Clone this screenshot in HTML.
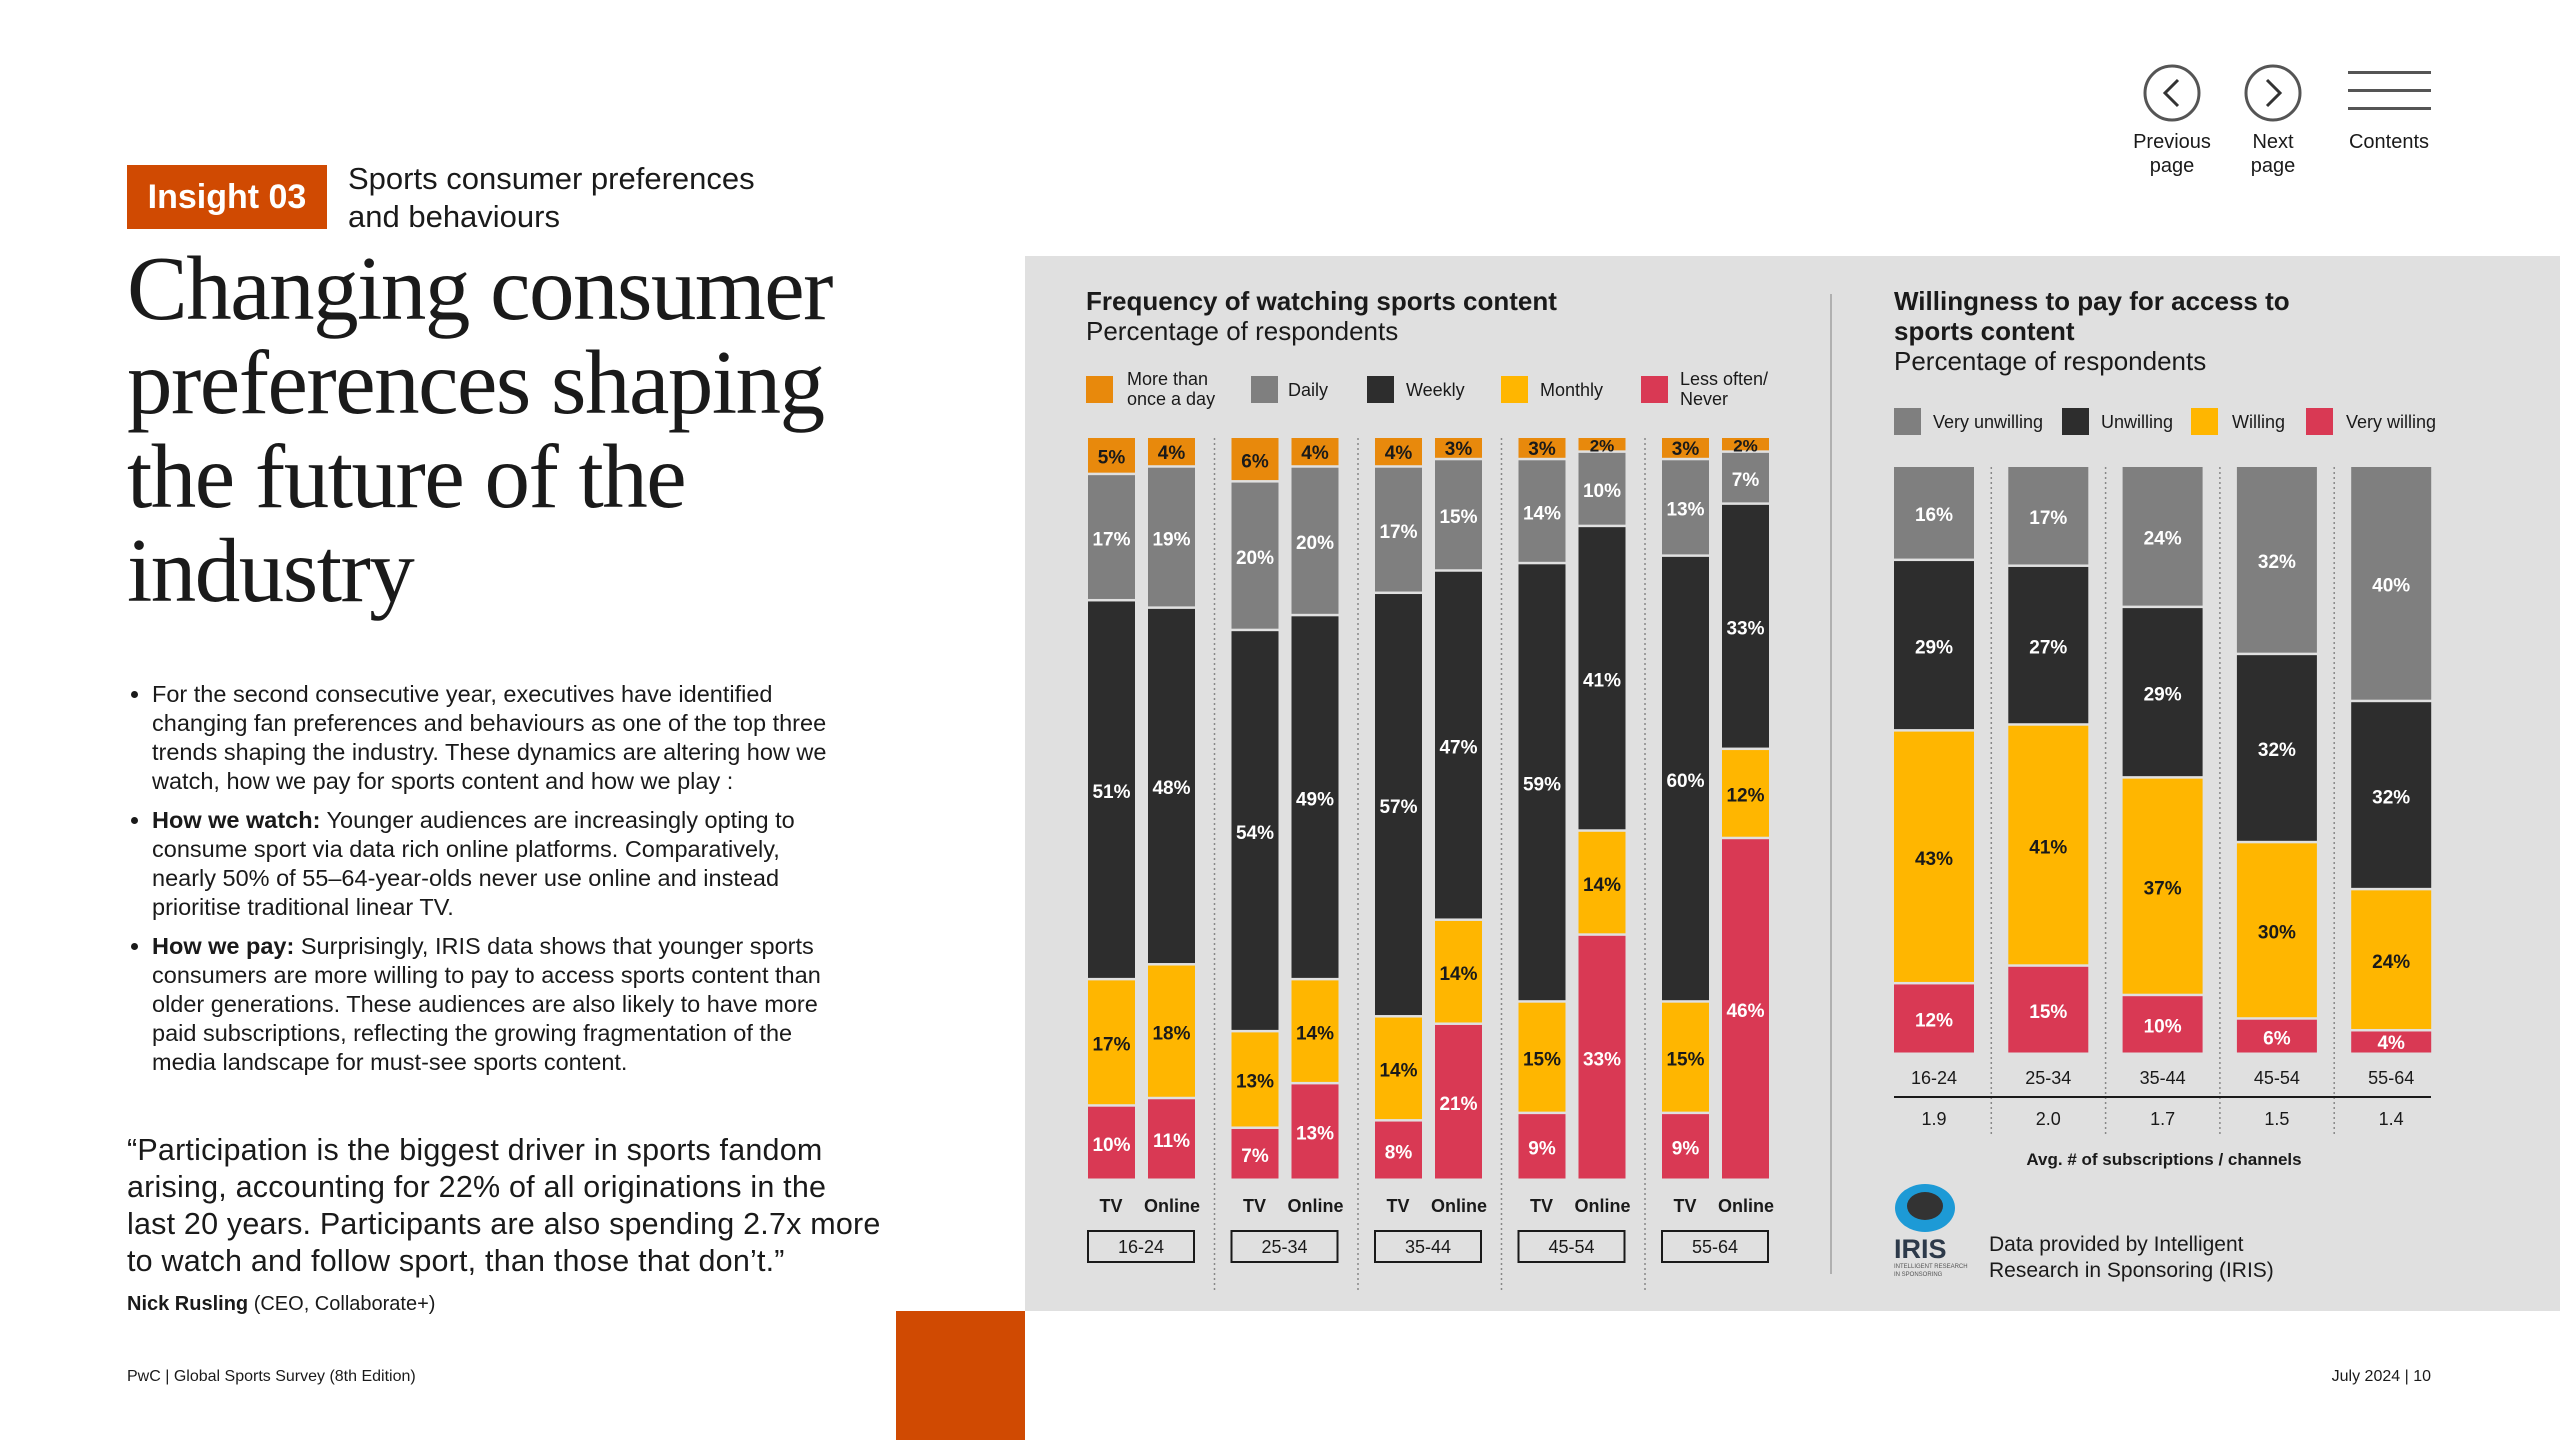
<!DOCTYPE html>
<html><head><meta charset="utf-8">
<style>
body{margin:0;width:2560px;height:1440px;position:relative;background:#fff;font-family:"Liberation Sans",sans-serif;color:#1a1a1a;overflow:hidden}
.a{position:absolute;margin:0}
</style></head><body>
<div class="a" style="left:127px;top:165px;width:200px;height:64px;background:#d04a02;color:#fff;font-size:34px;font-weight:bold;line-height:64px;text-align:center">Insight 03</div>
<div class="a" style="left:348px;top:160px;font-size:31px;line-height:38px;font-weight:500">Sports consumer preferences<br>and behaviours</div>
<h1 class="a" style="left:127px;top:242px;font-family:'Liberation Serif',serif;font-weight:normal;font-size:91px;line-height:94px;letter-spacing:-1.5px">Changing consumer<br>preferences shaping<br>the future of the<br>industry</h1>
<ul class="a" style="left:127px;top:680px;width:690px;padding-left:25px;font-size:23.5px;line-height:29px;list-style:disc">
<li style="margin-bottom:10px">For the second consecutive year, executives have identified changing fan preferences and behaviours as one of the top three trends shaping the industry. These dynamics are altering how we watch, how we pay for sports content and how we play :</li>
<li style="margin-bottom:10px"><b>How we watch:</b> Younger audiences are increasingly opting to consume sport via data rich online platforms. Comparatively, nearly 50% of 55–64-year-olds never use online and instead prioritise traditional linear TV.</li>
<li><b>How we pay:</b> Surprisingly, IRIS data shows that younger sports consumers are more willing to pay to access sports content than older generations. These audiences are also likely to have more paid subscriptions, reflecting the growing fragmentation of the media landscape for must-see sports content.</li>
</ul>
<div class="a" style="left:127px;top:1132px;white-space:nowrap;font-size:30.5px;line-height:37px;letter-spacing:0.2px">“Participation is the biggest driver in sports fandom<br>arising, accounting for 22% of all originations in the<br>last 20 years. Participants are also spending 2.7x more<br>to watch and follow sport, than those that don’t.”</div>
<div class="a" style="left:127px;top:1293px;font-size:20px"><b>Nick Rusling</b> (CEO, Collaborate+)</div>
<div class="a" style="left:127px;top:1368px;font-size:16px">PwC | Global Sports Survey (8th Edition)</div>
<div class="a" style="right:129px;top:1368px;font-size:16px">July 2024 | 10</div>
<div class="a" style="left:896px;top:1311px;width:129px;height:129px;background:#d04a02"></div>

<svg class="a" style="left:0;top:0" width="2560" height="1440">
<g font-family="Liberation Sans" font-size="20" text-anchor="middle" fill="#1a1a1a">
<circle cx="2172" cy="93" r="27" fill="none" stroke="#555" stroke-width="3"/><path d="M2178 80 L2165 93 L2178 106" fill="none" stroke="#333" stroke-width="3"/>
<text x="2172" y="148">Previous</text><text x="2172" y="172">page</text></g>
<g font-family="Liberation Sans" font-size="20" text-anchor="middle" fill="#1a1a1a">
<circle cx="2273" cy="93" r="27" fill="none" stroke="#555" stroke-width="3"/><path d="M2267 80 L2280 93 L2267 106" fill="none" stroke="#333" stroke-width="3"/>
<text x="2273" y="148">Next</text><text x="2273" y="172">page</text></g>
<g font-family="Liberation Sans" font-size="20" text-anchor="middle" fill="#1a1a1a">
<rect x="2348" y="71" width="83" height="3" fill="#555"/><rect x="2348" y="89" width="83" height="3" fill="#555"/><rect x="2348" y="107" width="83" height="3" fill="#555"/>
<text x="2389" y="148">Contents</text></g>
<rect x="1025" y="256" width="1535" height="1055" fill="#e0e0e0"/>
<line x1="1831" y1="294" x2="1831" y2="1274" stroke="#b0b0b0" stroke-width="2"/>
<g id="left" font-family="Liberation Sans"></g>
<g id="right" font-family="Liberation Sans"></g>
</svg>
<script>
const ageGroups=["16-24","25-34","35-44","45-54","55-64"];
const freqSeries=["More than once a day","Daily","Weekly","Monthly","Less often/ Never"];
const tvValues=[[5,17,51,17,10],[6,20,54,13,7],[4,17,57,14,8],[3,14,59,15,9],[3,13,60,15,9]];
const onlineValues=[[4,19,48,18,11],[4,20,49,14,13],[3,15,47,14,21],[2,10,41,14,33],[2,7,33,12,46]];
const paySeries=["Very unwilling","Unwilling","Willing","Very willing"];
const payValues=[[16,29,43,12],[17,27,41,15],[24,29,37,10],[32,32,30,6],[40,32,24,4]];
const avgSubs=["1.9","2.0","1.7","1.5","1.4"];

const NS="http://www.w3.org/2000/svg";
function mk(p,tag,at,txt){const e=document.createElementNS(NS,tag);for(const k in at)e.setAttribute(k,at[k]);if(txt!==undefined)e.textContent=txt;p.appendChild(e);return e;}
const fC=["#e8890c","#7f7f7f","#2d2d2d","#ffb600","#d93954"];
const fT=["#1a1a1a","#fff","#fff","#1a1a1a","#fff"];
const pC=["#7f7f7f","#2d2d2d","#ffb600","#d93954"];
const pT=["#fff","#fff","#1a1a1a","#fff"];
const L=document.getElementById('left'),R=document.getElementById('right');

let t=mk(L,'text',{x:1086,y:310,'font-size':26,'font-weight':'bold',fill:'#1a1a1a'},'Frequency of watching sports content');

t=mk(L,'text',{x:1086,y:340,'font-size':26,fill:'#1a1a1a'},'Percentage of respondents');

const legX=[1086,1251,1367,1501,1641],legTX=[1127,1288,1406,1540,1680];
const legLines=[["More than","once a day"],["Daily"],["Weekly"],["Monthly"],["Less often/","Never"]];
freqSeries.forEach((s,i)=>{
 const g=mk(L,'g',{});
 
 
 mk(g,'rect',{x:legX[i],y:376,width:27,height:27,fill:fC[i]});
 const ln=legLines[i];
 if(ln.length==1) mk(g,'text',{x:legTX[i],y:396,'font-size':18,fill:'#1a1a1a'},ln[0]);
 else{mk(g,'text',{x:legTX[i],y:385,'font-size':18,fill:'#1a1a1a'},ln[0]);mk(g,'text',{x:legTX[i],y:405,'font-size':18,fill:'#1a1a1a'},ln[1]);}
});
const top0=438,bot0=1181,H0=bot0-top0;
function yL(v){return v/100*H0;}
function stack(p,x,w,vals,cols,tcols,top,yf,nm){
 let y=top;
 vals.forEach((v,i)=>{
  const h=yf(v);
  const r=mk(p,'rect',{x:x,y:y,width:w,height:Math.max(h-2.5,1),fill:cols[i]});
  
  
  const lt=mk(p,'text',{x:x+w/2,y:y+h/2+7,'font-size':v<=2?17:19,'font-weight':'bold','text-anchor':'middle',fill:tcols[i]},v+'%');
  if(v<=4) lt.setAttribute('y',y+h/2+6);
  y+=h;
 });
}
ageGroups.forEach((a,gi)=>{
 const x0=1088+gi*143.5;
 stack(L,x0,47,tvValues[gi],fC,fT,top0,yL,'tv-bar-'+a);
 stack(L,x0+60,47,onlineValues[gi],fC,fT,top0,yL,'online-bar-'+a);
 mk(L,'text',{x:x0+23,y:1212,'font-size':18,'font-weight':'bold','text-anchor':'middle',fill:'#1a1a1a'},'TV');
 mk(L,'text',{x:x0+84,y:1212,'font-size':18,'font-weight':'bold','text-anchor':'middle',fill:'#1a1a1a'},'Online');
 const b=mk(L,'rect',{x:x0,y:1231,width:106,height:31,fill:'none',stroke:'#1a1a1a','stroke-width':2});
 
 
 mk(L,'text',{x:x0+53,y:1253,'font-size':18,'text-anchor':'middle',fill:'#1a1a1a'},a);
 if(gi>0) mk(L,'line',{x1:x0-17,y1:438,x2:x0-17,y2:1290,stroke:'#888','stroke-width':1.5,'stroke-dasharray':'2 3'});
});

t=mk(R,'text',{x:1894,y:310,'font-size':26,'font-weight':'bold',fill:'#1a1a1a'},'Willingness to pay for access to');

mk(R,'text',{x:1894,y:340,'font-size':26,'font-weight':'bold',fill:'#1a1a1a'},'sports content');
t=mk(R,'text',{x:1894,y:370,'font-size':26,fill:'#1a1a1a'},'Percentage of respondents');

const pLX=[1894,2062,2191,2306],pTX=[1933,2101,2232,2346];
paySeries.forEach((s,i)=>{
 const g=mk(R,'g',{});
 
 
 mk(g,'rect',{x:pLX[i],y:408,width:27,height:27,fill:pC[i]});
 mk(g,'text',{x:pTX[i],y:428,'font-size':18,fill:'#1a1a1a'},s);
});
const top1=467,bot1=1055,H1=bot1-top1;
function yR(v){return v/100*H1;}
ageGroups.forEach((a,gi)=>{
 const x0=1894+gi*114.3;
 stack(R,x0,80,payValues[gi],pC,pT,top1,yR,'pay-bar-'+a);
 mk(R,'text',{x:x0+40,y:1084,'font-size':18,'text-anchor':'middle',fill:'#1a1a1a'},a);
 const v=mk(R,'text',{x:x0+40,y:1125,'font-size':18,'text-anchor':'middle',fill:'#1a1a1a'},avgSubs[gi]);
 
 
 if(gi>0) mk(R,'line',{x1:x0-17,y1:467,x2:x0-17,y2:1135,stroke:'#888','stroke-width':1.5,'stroke-dasharray':'2 3'});
});
mk(R,'line',{x1:1894,y1:1097,x2:2431,y2:1097,stroke:'#1a1a1a','stroke-width':2});
mk(R,'text',{x:2164,y:1165,'font-size':17,'font-weight':'bold','text-anchor':'middle',fill:'#1a1a1a'},'Avg. # of subscriptions / channels');
const lg=mk(R,'g',{});


mk(lg,'ellipse',{cx:1925,cy:1208,rx:30,ry:24,fill:'#1d9ad6'});
mk(lg,'ellipse',{cx:1925,cy:1206,rx:18,ry:14,fill:'#333'});
mk(lg,'text',{x:1894,y:1258,'font-size':27,'font-weight':'bold',fill:'#2d3a4a'},'IRIS');
mk(lg,'text',{x:1894,y:1268,'font-size':6,fill:'#555'},'INTELLIGENT RESEARCH');
mk(lg,'text',{x:1894,y:1276,'font-size':6,fill:'#555'},'IN SPONSORING');
mk(R,'text',{x:1989,y:1251,'font-size':21,fill:'#1a1a1a'},'Data provided by Intelligent');
mk(R,'text',{x:1989,y:1277,'font-size':21,fill:'#1a1a1a'},'Research in Sponsoring (IRIS)');
</script>
</body></html>
